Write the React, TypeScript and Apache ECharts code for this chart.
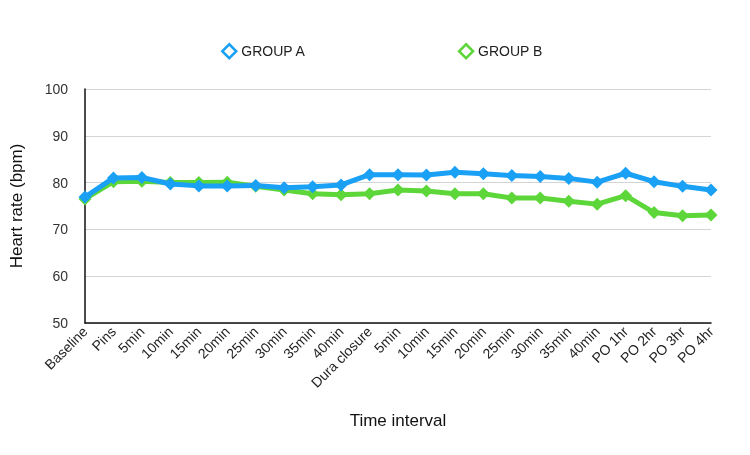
import React, { useEffect, useRef } from "react";
import * as echarts from "echarts";

const categories = [
  "Baseline", "Pins", "5min", "10min", "15min", "20min", "25min", "30min", "35min", "40min",
  "Dura closure", "5min", "10min", "15min", "20min", "25min", "30min", "35min", "40min",
  "PO 1hr", "PO 2hr", "PO 3hr", "PO 4hr",
];

const groupA = [
  76.9, 81.0, 81.1, 79.7, 79.3, 79.3, 79.4, 78.9, 79.1, 79.5,
  81.7, 81.7, 81.6, 82.2, 81.9, 81.5, 81.3, 80.9, 80.1,
  82.0, 80.2, 79.2, 78.4,
];

const groupB = [
  76.5, 80.2, 80.3, 80.0, 80.0, 80.1, 79.2, 78.4, 77.6, 77.4,
  77.6, 78.4, 78.2, 77.6, 77.6, 76.7, 76.7, 76.0, 75.4,
  77.2, 73.6, 72.9, 73.1,
];

const seriesNames = ["GROUP A", "GROUP B"];
const colors = ["#1aa0f5", "#5dd63a"];

export default function App() {
  const ref = useRef<HTMLDivElement>(null);

  useEffect(() => {
    if (!ref.current) return;
    const chart = echarts.init(ref.current, undefined, { renderer: "svg" });
    const font = "Helvetica, Arial, 'Liberation Sans', sans-serif";
    const makeSeries = (name: string, data: number[], color: string) => ({
      name,
      type: "line",
      data,
      symbol: "diamond",
      symbolSize: 13,
      lineStyle: { color, width: 5 },
      itemStyle: { color },
      z: name === "GROUP A" ? 3 : 2,
    });
    chart.setOption({
      animation: false,
      textStyle: { fontFamily: font },
      legend: {
        top: 38,
        left: 216,
        itemGap: 152,
        itemWidth: 14,
        itemHeight: 14,
        icon: "diamond",
        textStyle: { fontSize: 14, color: "#222", fontFamily: font },
        data: seriesNames.map((n, i) => ({
          name: n,
          itemStyle: { color: "#fff", borderColor: colors[i], borderWidth: 2.5 },
        })),
      },
      grid: { left: 82, right: 39, top: 89, bottom: 132, containLabel: false },
      xAxis: {
        type: "category",
        data: categories,
        boundaryGap: false,
        name: "Time interval",
        nameLocation: "middle",
        nameGap: 89,
        nameTextStyle: { fontSize: 17, color: "#111", fontFamily: font },
        axisLine: { lineStyle: { color: "#111", width: 1.5 } },
        axisTick: { show: false },
        axisLabel: {
          rotate: 45,
          fontSize: 14,
          color: "#222",
          margin: 6,
          interval: 0,
          fontFamily: font,
        },
      },
      yAxis: {
        type: "value",
        min: 50,
        max: 100,
        interval: 10,
        name: "Heart rate (bpm)",
        nameLocation: "middle",
        nameGap: 60,
        nameTextStyle: { fontSize: 17, color: "#111", fontFamily: font },
        axisLine: { show: true, lineStyle: { color: "#111", width: 1.5 } },
        axisTick: { show: false },
        axisLabel: { fontSize: 14, color: "#333", margin: 17, fontFamily: font },
        splitLine: { lineStyle: { color: "#d4d4d4", width: 1 } },
      },
      series: [
        makeSeries(seriesNames[1], groupB, colors[1]),
        makeSeries(seriesNames[0], groupA, colors[0]),
      ],
    });
    return () => chart.dispose();
  }, []);

  return (
    <div
      ref={ref}
      style={{ position: "fixed", left: 0, top: 0, width: 750, height: 455 }}
    />
  );
}
